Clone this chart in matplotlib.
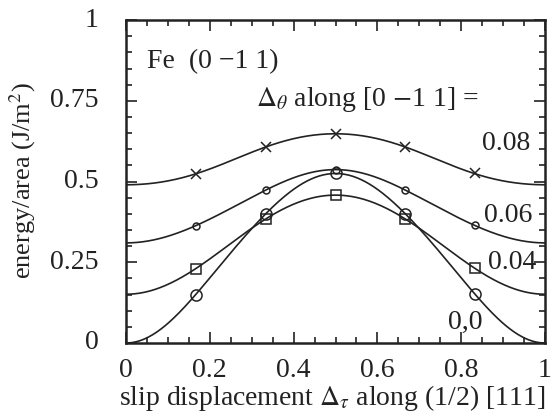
import numpy as np
import matplotlib
matplotlib.use('Agg')
import matplotlib.pyplot as plt
from matplotlib.ticker import MultipleLocator

plt.rcParams['font.family'] = ['Liberation Serif', 'DejaVu Serif']
plt.rcParams['mathtext.fontset'] = 'stix'

# curve values at slip = 0, 1/6, ..., 1 (markers at the interior points)
slip_nodes = [0.0, 1/6, 2/6, 3/6, 4/6, 5/6, 1.0]
e_008 = [0.490, 0.523, 0.607, 0.648, 0.607, 0.525, 0.490]
e_006 = [0.310, 0.362, 0.473, 0.537, 0.474, 0.365, 0.310]
e_004 = [0.150, 0.229, 0.383, 0.458, 0.385, 0.232, 0.152]
e_000 = [0.000, 0.149, 0.400, 0.525, 0.400, 0.152, 0.000]
curve_labels = ['0.08', '0.06', '0.04', '0,0']
markers = ['x', 'o', 's', 'o']
msizes = [7, 5, 7, 8]


def smooth(xn, yn, n=300):
    # periodic cosine series through the nodes, for drawing the line
    xn = np.asarray(xn)
    A = np.column_stack([np.cos(2 * np.pi * k * xn) for k in range(4)])
    c, *_ = np.linalg.lstsq(A, np.asarray(yn), rcond=None)
    xs = np.linspace(0, 1, n)
    B = np.column_stack([np.cos(2 * np.pi * k * xs) for k in range(4)])
    return xs, B @ c


fig = plt.figure(figsize=(5.59, 4.19), dpi=100)
ax = fig.add_axes([0.2254, 0.1814, 0.7496, 0.7706])

for vals, m, ms in zip([e_008, e_006, e_004, e_000], markers, msizes):
    xs, ys = smooth(slip_nodes, vals)
    ax.plot(xs, ys, color='#222222', lw=1.2)
    ax.plot(slip_nodes[1:-1], vals[1:-1], linestyle='none', marker=m,
            markersize=ms, markerfacecolor='none', markeredgecolor='#222222',
            markeredgewidth=1.1)

ax.set_xlim(0, 1)
ax.set_ylim(0, 1)
ax.xaxis.set_major_locator(MultipleLocator(0.2))
ax.xaxis.set_minor_locator(MultipleLocator(0.05))
ax.yaxis.set_major_locator(MultipleLocator(0.25))
ax.yaxis.set_minor_locator(MultipleLocator(0.05))
ax.set_xticklabels([])
ax.set_yticklabels([])
ax.tick_params(which='both', direction='in', top=True, right=True,
               color='#222222', width=1.2)
ax.tick_params(which='major', length=8)
ax.tick_params(which='minor', length=4)
for s in ax.spines.values():
    s.set_linewidth(1.8)
    s.set_color('#222222')

tc = '#222222'
fs = 20
for v, lab in zip([0, 0.2, 0.4, 0.6, 0.8, 1.0], ['0', '0.2', '0.4', '0.6', '0.8', '1']):
    ax.text(v, -0.045, lab, ha='center', va='top', fontsize=fs, color=tc,
            transform=ax.transAxes)
for v, lab in zip([0, 0.25, 0.5, 0.75, 1.0], ['0', '0.25', '0.5', '0.75', '1']):
    ax.text(-0.065, v, lab, ha='right', va='center', fontsize=fs, color=tc,
            transform=ax.transAxes)

ax.text(0.05, 0.87, 'Fe  (0 \u22121 1)', fontsize=fs, color=tc,
        ha='left', va='center', transform=ax.transAxes)
ax.text(0.31, 0.755, r'$\Delta_\theta$ along [0 $-$1 1] =', fontsize=fs,
        color=tc, ha='left', va='center', transform=ax.transAxes)
label_pos = [(0.965, 0.617), (0.97, 0.395), (0.98, 0.25), (0.85, 0.065)]
for lab, (lx, ly) in zip(curve_labels, label_pos):
    ax.text(lx, ly, lab, fontsize=fs, color=tc, ha='right', va='center',
            transform=ax.transAxes)

fig.text(0.595, 0.05, r'slip displacement $\Delta_\tau$ along (1/2) [111]',
         fontsize=fs, color=tc, ha='center', va='center')
fig.text(0.04, 0.57, r'energy/area (J/m$^2$)', fontsize=19, color=tc,
         ha='center', va='center', rotation=90)

fig.savefig('out.png', dpi=100)
